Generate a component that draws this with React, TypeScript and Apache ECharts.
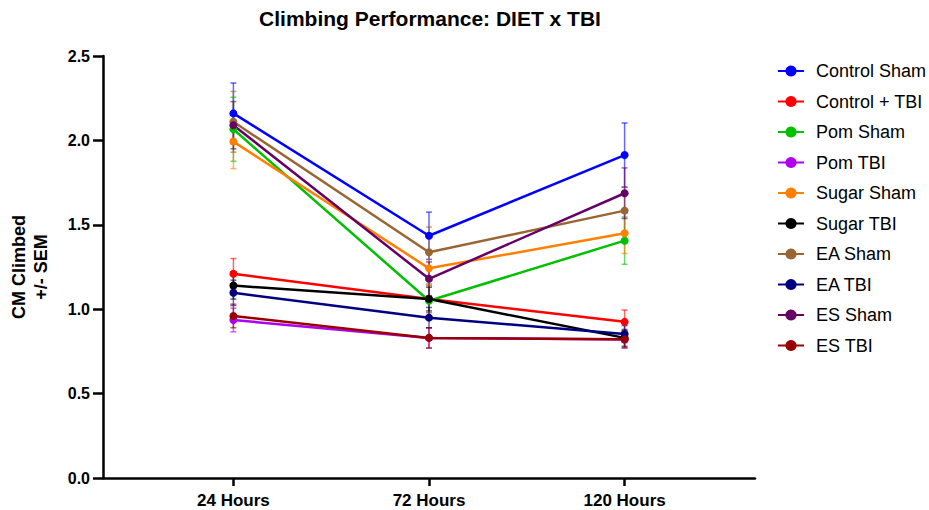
import React, { useEffect, useRef } from "react";
import * as echarts from "echarts";

const categories = ["24 Hours", "72 Hours", "120 Hours"];
const seriesNames = [
  "Control Sham",
  "Control + TBI",
  "Pom Sham",
  "Pom TBI",
  "Sugar Sham",
  "Sugar TBI",
  "EA Sham",
  "EA TBI",
  "ES Sham",
  "ES TBI",
];
const seriesColors = [
  "#0000FF",
  "#FF0000",
  "#00C000",
  "#B000F0",
  "#FF8000",
  "#000000",
  "#996633",
  "#000080",
  "#660066",
  "#990000",
];
const controlSham = [2.16, 1.435, 1.913];
const controlTbi = [1.21, 1.06, 0.925];
const pomSham = [2.066, 1.05, 1.406];
const pomTbi = [0.936, 0.83, 0.82];
const sugarSham = [1.993, 1.242, 1.45];
const sugarTbi = [1.14, 1.06, 0.83];
const eaSham = [2.11, 1.337, 1.584];
const eaTbi = [1.097, 0.95, 0.853];
const esSham = [2.09, 1.18, 1.687];
const esTbi = [0.96, 0.83, 0.822];

const controlShamSem = [0.18, 0.14, 0.19];
const controlTbiSem = [0.09, 0.08, 0.07];
const pomShamSem = [0.19, 0.1, 0.14];
const pomTbiSem = [0.07, 0.06, 0.05];
const sugarShamSem = [0.16, 0.1, 0.12];
const sugarTbiSem = [0.08, 0.07, 0.05];
const eaShamSem = [0.18, 0.15, 0.14];
const eaTbiSem = [0.075, 0.06, 0.05];
const esShamSem = [0.14, 0.1, 0.15];
const esTbiSem = [0.07, 0.06, 0.05];

const yTicks = [0, 0.5, 1, 1.5, 2, 2.5];

const allMeans = [controlSham, controlTbi, pomSham, pomTbi, sugarSham, sugarTbi, eaSham, eaTbi, esSham, esTbi];
const allSems = [controlShamSem, controlTbiSem, pomShamSem, pomTbiSem, sugarShamSem, sugarTbiSem, eaShamSem, eaTbiSem, esShamSem, esTbiSem];

const FONT = "Liberation Sans, Arial, Helvetica, sans-serif";

export default function App() {
  const ref = useRef<HTMLDivElement>(null);
  useEffect(() => {
    document.body.style.margin = "0";
    const chart = echarts.init(ref.current!, null, { renderer: "svg" });
    const series: any[] = [];
    seriesNames.forEach((name, i) => {
      const color = seriesColors[i];
      series.push({
        type: "custom",
        name: name + " SEM",
        z: 1,
        data: allMeans[i].map((m, j) => [j, m - allSems[i][j], m + allSems[i][j]]),
        renderItem: (params: any, api: any) => {
          const x = api.value(0);
          const lo = api.coord([x, api.value(1)]);
          const hi = api.coord([x, api.value(2)]);
          const hw = 3;
          const style = { stroke: color, lineWidth: 1.5, opacity: 0.6 };
          return {
            type: "group",
            children: [
              { type: "line", shape: { x1: lo[0], y1: lo[1], x2: hi[0], y2: hi[1] }, style },
              { type: "line", shape: { x1: lo[0] - hw, y1: lo[1], x2: lo[0] + hw, y2: lo[1] }, style },
              { type: "line", shape: { x1: hi[0] - hw, y1: hi[1], x2: hi[0] + hw, y2: hi[1] }, style },
            ],
          };
        },
      });
    });
    seriesNames.forEach((name, i) => {
      series.push({
        type: "line",
        name,
        z: 3,
        data: allMeans[i].map((m, j) => [j, m]),
        symbol: "circle",
        symbolSize: 8,
        lineStyle: { color: seriesColors[i], width: 2.5 },
        itemStyle: { color: seriesColors[i] },
      });
    });
    chart.setOption({
      animation: false,
      graphic: [
        {
          type: "text",
          x: 430,
          y: 18,
          style: {
            text: "Climbing Performance: DIET x TBI",
            font: `bold 21px ${FONT}`,
            fill: "#000",
            textAlign: "center",
            textVerticalAlign: "middle",
          },
        },
        {
          type: "text",
          x: 30,
          y: 267,
          rotation: Math.PI / 2,
          style: {
            text: "CM Climbed\n+/- SEM",
            font: `bold 18px ${FONT}`,
            fill: "#000",
            textAlign: "center",
            textVerticalAlign: "middle",
            lineHeight: 22,
          },
        },
      ],
      legend: {
        data: seriesNames,
        orient: "vertical",
        left: 777,
        top: 62,
        padding: 0,
        itemWidth: 26,
        itemHeight: 14,
        itemGap: 12.5,
        textStyle: { fontFamily: FONT, fontSize: 18, lineHeight: 18, color: "#000", padding: [0, 0, 0, 7] },
      },
      grid: { left: 103, top: 56, width: 652, height: 422, containLabel: false },
      xAxis: {
        type: "value",
        min: -2 / 3,
        max: 8 / 3,
        splitLine: { show: false },
        axisLine: { show: true, onZero: false, lineStyle: { color: "#000", width: 2.5 } },
        axisTick: { show: true, customValues: [0, 1, 2], length: 8, lineStyle: { color: "#000", width: 2.5 } },
        axisLabel: {
          customValues: [0, 1, 2],
          formatter: (v: number) => categories[Math.round(v)] ?? "",
          fontFamily: FONT,
          fontWeight: "bold",
          fontSize: 17,
          color: "#000",
          margin: 14,
        },
      },
      yAxis: {
        type: "value",
        min: 0,
        max: 2.5,
        interval: 0.5,
        splitLine: { show: false },
        axisLine: { show: true, onZero: false, lineStyle: { color: "#000", width: 2.5 } },
        axisTick: { show: true, length: 10, lineStyle: { color: "#000", width: 2.5 } },
        axisLabel: {
          customValues: yTicks,
          formatter: (v: number) => v.toFixed(1),
          fontFamily: FONT,
          fontWeight: "bold",
          fontSize: 16,
          color: "#000",
          margin: 13,
        },
      },
      series,
    });
    return () => chart.dispose();
  }, []);
  return <div ref={ref} style={{ width: 929, height: 510 }} />;
}
